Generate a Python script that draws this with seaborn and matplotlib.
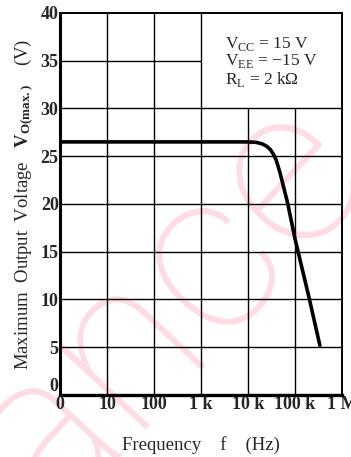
import matplotlib
matplotlib.use("Agg")
import matplotlib.pyplot as plt
import seaborn as sns
import pandas as pd

# data
freq = [1, 10, 100, 1e3, 1e4, 1.5e4, 2e4, 2.5e4, 3e4, 3.5e4, 4e4, 4.8e4, 7e4, 1e5, 2e5, 3.4e5]
vout = [26.5, 26.5, 26.5, 26.5, 26.5, 26.45, 26.3, 26.05, 25.7, 25.2, 24.6, 23.3, 20.1, 16.4, 10.2, 5.2]

x_ticks = [1, 10, 100, 1e3, 1e4, 1e5, 1e6]
x_labels = ["0", "10", "100", "1 k", "10 k", "100 k", "1 M"]
y_ticks = [0, 5, 10, 15, 20, 25, 30, 35, 40]

sns.set_style("white")
plt.rcParams["font.family"] = ["Liberation Serif", "DejaVu Serif"]
plt.rcParams["mathtext.fontset"] = "custom"
plt.rcParams["mathtext.rm"] = "Liberation Serif"
plt.rcParams["mathtext.bf"] = "Liberation Serif:bold"

fig = plt.figure(figsize=(3.51, 4.57), dpi=100)
ax = fig.add_axes([0.171, 0.1357, 0.803, 0.8359])
ax.set_facecolor("none")

# watermark
fig.text(0.47, 0.33, "ance", rotation=47, fontsize=165, color="#ffdbe2",
         ha="center", va="center", family="Roboto", fontweight="light", zorder=-1)

ax.set_xscale("log")
ax.set_xlim(1, 1e6)
ax.set_ylim(0, 40)

# grid, leaving the condition box (1k..1M, 30..40) clear
for y in y_ticks[1:-1]:
    xmax = 1e3 if y > 30 else 1e6
    ax.hlines(y, 1, xmax, color="black", lw=1.0, zorder=1)
for x in x_ticks[1:-1]:
    ymax = 30 if x > 1e3 else 40
    ax.vlines(x, 0, ymax, color="black", lw=1.0, zorder=1)

df = pd.DataFrame({"f": freq, "v": vout})
sns.lineplot(data=df, x="f", y="v", ax=ax, color="black", lw=2.6, zorder=3)

ax.set_xticks(x_ticks)
ax.set_xticklabels(x_labels)
ax.set_yticks(y_ticks)
ax.minorticks_off()
ax.tick_params(length=0, labelsize=13, pad=1)
for lab in ax.get_xticklabels() + ax.get_yticklabels():
    lab.set_fontweight("bold")
ax.get_yticklabels()[0].set_va("bottom")

for side, lw in [("left", 2.2), ("bottom", 2.4), ("right", 1.4), ("top", 1.4)]:
    ax.spines[side].set_visible(True)
    ax.spines[side].set_color("black")
    ax.spines[side].set_linewidth(lw)

ax.set_xlabel("Frequency    f    (Hz)", fontsize=13.5, labelpad=16)
ax.set_ylabel(r"Maximum  Output  Voltage   $\mathbf{V_{O(max.)}}$    (V)", fontsize=13.5, labelpad=4)

ax.text(3.2e3, 34.9,
        "V$_{\\rm CC}$ = 15 V\nV$_{\\rm EE}$ = \u221215 V\nR$_{\\rm L}$ = 2 k\u03a9",
        fontsize=12.5, ha="left", va="center", linespacing=0.95)

fig.savefig("out.png", dpi=100)
